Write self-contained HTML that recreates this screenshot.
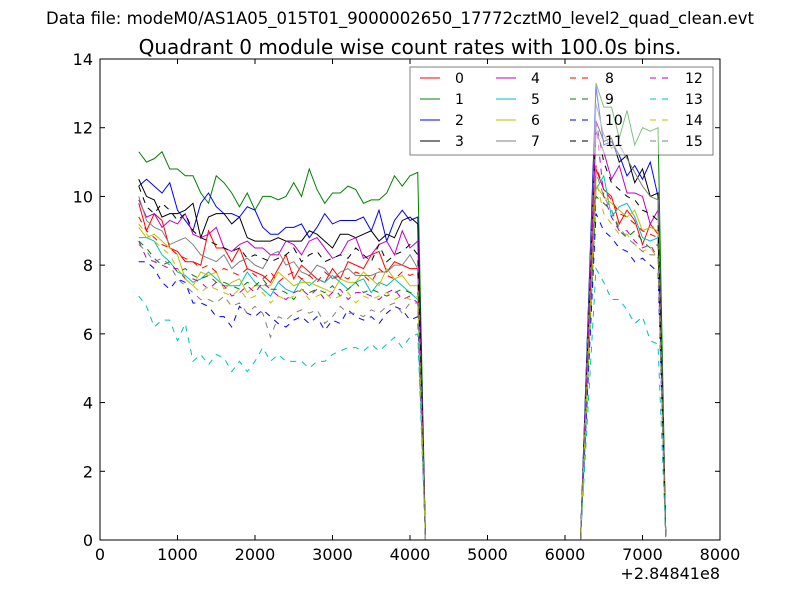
<!DOCTYPE html>
<html><head><meta charset="utf-8"><style>body{margin:0;background:#fff}svg{display:block;font-family:"DejaVu Sans","Liberation Sans",sans-serif}</style></head>
<body>
<svg id="c" width="800" height="600" xmlns="http://www.w3.org/2000/svg">
<rect width="800" height="600" fill="#fff"/>
<text x="400" y="24" text-anchor="middle" font-size="16.5">Data file: modeM0/AS1A05_015T01_9000002650_17772cztM0_level2_quad_clean.evt</text>
<text x="410" y="54" text-anchor="middle" font-size="20">Quadrant 0 module wise count rates with 100.0s bins.</text>
<g id="marks"></g>
<g id="axes"></g>
<g id="legend"></g>
</svg>
<script>
const xTicks=[0,1000,2000,3000,4000,5000,6000,7000,8000];
const yTicks=[0,2,4,6,8,10,12,14];
const seg1Times=[];for(let t=500;t<=4100;t+=100)seg1Times.push(t);
const gapTimes=[4200,6200];
const seg2Times=[6400,6500,6600,6700,6800,6900,7000,7100,7200];
const endTimes=[7300];
const seriesNames=["0","1","2","3","4","5","6","7","8","9","10","11","12","13","14","15"];
const s0=[9.8,9.0,9.5,9.3,8.5,8.4,8.1,8.1,8.0,9.0,8.5,8.5,8.1,8.5,7.9,7.8,7.7,7.5,7.9,8.3,7.6,8.0,7.8,7.6,7.5,7.9,7.6,8.1,8.0,7.9,8.3,8.4,7.8,8.1,8.0,7.9,7.9, 0,0, 10.8,10.2,10.0,9.2,9.6,9.3,8.6,9.2,8.9, 0.1];
const s1=[11.3,11.0,11.1,11.3,10.8,10.8,10.6,10.6,10.1,9.8,10.6,10.4,10.1,9.7,10.1,9.6,10.0,10.0,9.9,10.0,10.4,10.0,10.8,10.2,9.8,10.1,10.1,10.3,10.2,9.8,9.9,9.9,10.1,10.6,10.3,10.6,10.7, 0,0, 13.3,12.6,12.6,11.7,12.5,11.5,12.0,11.9,12.0, 0.1];
const s2=[10.3,10.5,10.3,10.1,10.4,9.6,9.3,9.0,9.8,10.1,9.7,9.5,9.5,9.4,9.7,9.6,9.1,8.9,8.9,9.1,9.1,9.2,8.8,9.1,9.5,9.2,9.3,9.3,9.3,9.4,9.0,9.6,8.7,9.3,9.6,9.3,9.4, 0,0, 13.2,11.5,11.6,11.2,10.6,10.9,10.5,11.0,10.0, 0.1];
const s3=[10.5,10.0,9.9,9.4,9.5,9.5,9.6,9.8,8.8,9.4,9.5,9.5,9.2,9.4,8.8,8.7,8.7,8.7,8.8,8.7,8.7,8.7,9.0,8.9,8.7,8.5,8.9,8.9,8.8,8.9,9.0,8.7,8.9,8.8,9.3,9.4,9.2, 0,0, 12.2,11.6,11.7,11.0,11.2,10.4,10.8,10.0,10.1, 0.1];
const s4=[9.9,9.4,9.5,9.1,9.3,9.2,9.5,8.9,8.8,8.9,9.1,8.5,8.4,8.6,8.7,8.5,8.5,8.3,8.3,8.7,8.6,8.3,8.7,8.8,8.5,8.2,8.3,8.7,8.8,8.2,8.3,8.6,8.7,8.3,9.0,8.5,8.7, 0,0, 11.9,11.3,10.5,10.9,10.1,10.1,10.0,9.2,9.6, 0.1];
const s5=[8.8,8.8,8.7,8.3,8.1,7.8,7.7,7.5,7.6,7.8,7.6,7.4,7.4,7.4,7.8,7.5,7.3,7.1,7.5,7.3,7.2,7.6,7.4,7.6,7.5,7.7,7.5,7.3,7.5,7.6,7.2,7.5,7.4,7.6,7.4,7.2,7.0, 0,0, 10.2,10.6,9.4,9.7,9.8,9.4,8.8,8.7,8.8, 0.1];
const s6=[9.1,8.8,8.9,8.7,8.5,8.3,7.6,7.4,7.8,7.7,7.8,7.3,7.5,7.6,7.2,7.4,7.4,7.4,7.8,7.6,7.4,7.5,7.5,7.4,7.3,7.2,7.6,7.5,7.5,7.8,7.6,7.4,7.9,7.6,7.7,7.4,7.4, 0,0, 10.3,10.0,9.8,9.6,9.4,9.6,9.0,9.1,9.0, 0.1];
const s7=[10.0,9.3,9.1,9.0,8.6,8.7,8.8,8.6,8.3,8.2,8.1,8.3,7.9,8.1,8.2,8.0,7.9,8.3,8.4,8.0,8.1,7.8,7.7,8.0,7.9,7.6,7.8,7.9,7.7,7.7,7.7,7.8,7.8,8.0,8.0,8.3,7.9, 0,0, 12.7,11.8,11.4,11.5,11.1,10.7,10.3,10.0,9.9, 0.1];
const s8=[9.4,9.0,8.8,8.6,8.5,8.3,8.2,8.1,7.9,8.0,7.8,7.9,7.8,7.7,7.9,7.7,7.6,7.8,7.5,7.7,7.8,7.6,7.7,7.5,7.8,7.6,7.7,7.6,7.8,7.7,7.5,7.9,7.7,7.6,7.8,7.7,7.8, 0,0, 10.9,10.2,9.9,9.5,9.4,9.2,9.0,8.9,8.8, 0.1];
const s9=[8.7,8.5,8.2,8.0,8.1,7.8,7.9,7.7,7.6,7.7,7.5,7.5,7.4,7.3,7.5,7.4,7.6,7.3,7.3,7.2,7.0,7.3,7.2,7.3,7.2,7.4,7.1,7.3,7.5,7.2,7.3,7.2,7.1,7.2,7.3,7.2,7.2, 0,0, 10.0,9.8,9.6,9.0,8.8,9.0,8.7,8.5,8.6, 0.1];
const s10=[8.1,8.1,7.9,7.5,7.3,7.6,7.5,6.9,6.9,6.8,6.5,6.5,6.2,6.8,6.6,6.5,6.7,6.5,6.3,6.2,6.4,6.5,6.3,6.5,6.1,6.4,6.3,6.7,6.5,6.4,6.5,6.3,6.6,6.8,6.7,6.4,6.5, 0,0, 9.5,9.0,8.8,8.5,8.4,8.1,8.2,8.0,7.8, 0.1];
const s11=[10.3,9.7,9.5,9.8,9.6,9.3,9.5,9.0,8.8,8.7,8.6,8.5,8.4,8.5,8.2,8.3,8.2,8.1,8.2,8.3,8.5,8.1,8.3,8.4,8.1,8.2,8.3,8.2,8.5,8.3,8.1,8.6,8.1,8.3,8.4,8.6,8.3, 0,0, 12.2,11.0,10.4,10.2,10.0,9.9,9.6,9.5,9.3, 0.1];
const s12=[8.7,8.2,8.1,8.0,7.9,7.9,7.6,7.6,7.5,7.3,7.5,7.4,7.1,7.2,7.4,7.2,7.5,7.3,7.1,7.0,7.2,7.3,7.1,7.3,7.0,7.2,7.3,7.0,7.2,7.2,7.1,7.0,7.2,7.3,7.0,7.1,6.9, 0,0, 12.2,10.0,9.4,9.0,9.0,8.7,8.5,8.6,8.2, 0.1];
const s13=[7.1,6.8,6.2,6.4,6.4,5.8,6.3,5.2,5.4,5.1,5.4,5.3,4.9,5.2,4.9,5.2,5.6,5.2,5.4,5.2,5.2,5.2,5.0,5.2,5.2,5.4,5.5,5.6,5.6,5.5,5.7,5.5,5.7,5.9,5.6,5.9,6.0, 0,0, 7.9,7.5,7.0,7.0,6.7,6.3,6.5,5.8,5.7, 0.1];
const s14=[9.2,8.9,8.7,8.5,8.3,7.9,7.6,7.4,7.2,7.4,7.3,7.2,7.1,7.3,7.0,7.1,7.2,6.9,7.1,7.0,7.1,7.3,7.0,7.1,7.2,7.0,7.1,7.2,6.9,7.1,7.0,7.1,7.2,7.0,7.1,7.0,7.1, 0,0, 10.5,9.5,9.2,8.9,8.9,8.6,8.4,8.5,8.2, 0.1];
const s15=[8.6,8.4,8.1,8.2,8.0,7.6,7.4,7.2,7.0,7.0,6.9,7.1,6.8,6.9,6.6,6.8,6.6,5.9,6.5,6.4,6.6,6.7,6.6,6.7,6.3,6.5,6.8,6.6,6.6,6.5,6.7,6.6,6.8,6.9,6.6,6.9,6.9, 0,0, 10.7,10.0,9.6,9.1,8.8,8.6,8.4,8.3,8.3, 0.1];

const series=[s0,s1,s2,s3,s4,s5,s6,s7,s8,s9,s10,s11,s12,s13,s14,s15];
const times=seg1Times.concat(gapTimes,seg2Times,endTimes);
const colors=["#ff0000","#008000","#0000ff","#000000","#bf00bf","#00bfbf","#bfbf00","#808080"];
const L=100,R=720,T=59,B=540;
const xs=v=>L+(v-0)/8000*(R-L);
const ys=v=>B-(v-0)/14*(B-T);
const NS="http://www.w3.org/2000/svg";
function mk(tag,attrs,parent){const e=document.createElementNS(NS,tag);for(const k in attrs)e.setAttribute(k,attrs[k]);parent.appendChild(e);return e;}
const marks=document.getElementById('marks');
series.forEach((s,i)=>{
  const d=s.map((v,j)=>(j?'L':'M')+xs(times[j]).toFixed(2)+','+ys(v).toFixed(2)).join('');
  const p=mk('path',{d:d,fill:'none',stroke:colors[i%8],'stroke-width':1,'stroke-dasharray':i>=8?'6,6':'none'},marks);
  
  
});
const axes=document.getElementById('axes');
const frame=mk('rect',{x:L,y:T,width:R-L,height:B-T,fill:'none',stroke:'#000','stroke-width':1},axes);


xTicks.forEach(t=>{
  const x=xs(t);
  mk('line',{x1:x,y1:B,x2:x,y2:B-5,stroke:'#000'},axes);
  mk('line',{x1:x,y1:T,x2:x,y2:T+5,stroke:'#000'},axes);
  const tx=mk('text',{x:x,y:B+20,'text-anchor':'middle','font-size':16},axes);
  tx.textContent=t;
  
  
});
yTicks.forEach(t=>{
  const y=ys(t);
  mk('line',{x1:L,y1:y,x2:L+5,y2:y,stroke:'#000'},axes);
  mk('line',{x1:R,y1:y,x2:R-5,y2:y,stroke:'#000'},axes);
  const tx=mk('text',{x:L-7,y:y+6,'text-anchor':'end','font-size':16},axes);
  tx.textContent=t;
  
  
});
const off=mk('text',{x:720,y:579,'text-anchor':'end','font-size':16},axes);
off.textContent='+2.84841e8';


const lg=document.getElementById('legend');
const box=mk('rect',{x:410,y:67,width:303,height:88,fill:'#fff','fill-opacity':0.5,stroke:'#000','stroke-opacity':0.5},lg);


const colX=[420,496,570,650];
series.forEach((s,i)=>{
  const c=Math.floor(i/4),r=i%4,y=78+r*21;
  const ln=mk('line',{x1:colX[c],y1:y,x2:colX[c]+20,y2:y,stroke:colors[i%8],'stroke-dasharray':i>=8?'6,6':'none'},lg);
  
  
  const tx=mk('text',{x:colX[c]+35,y:y+5,'font-size':14},lg);
  tx.textContent=seriesNames[i];
  
  
});
</script>
</body></html>
